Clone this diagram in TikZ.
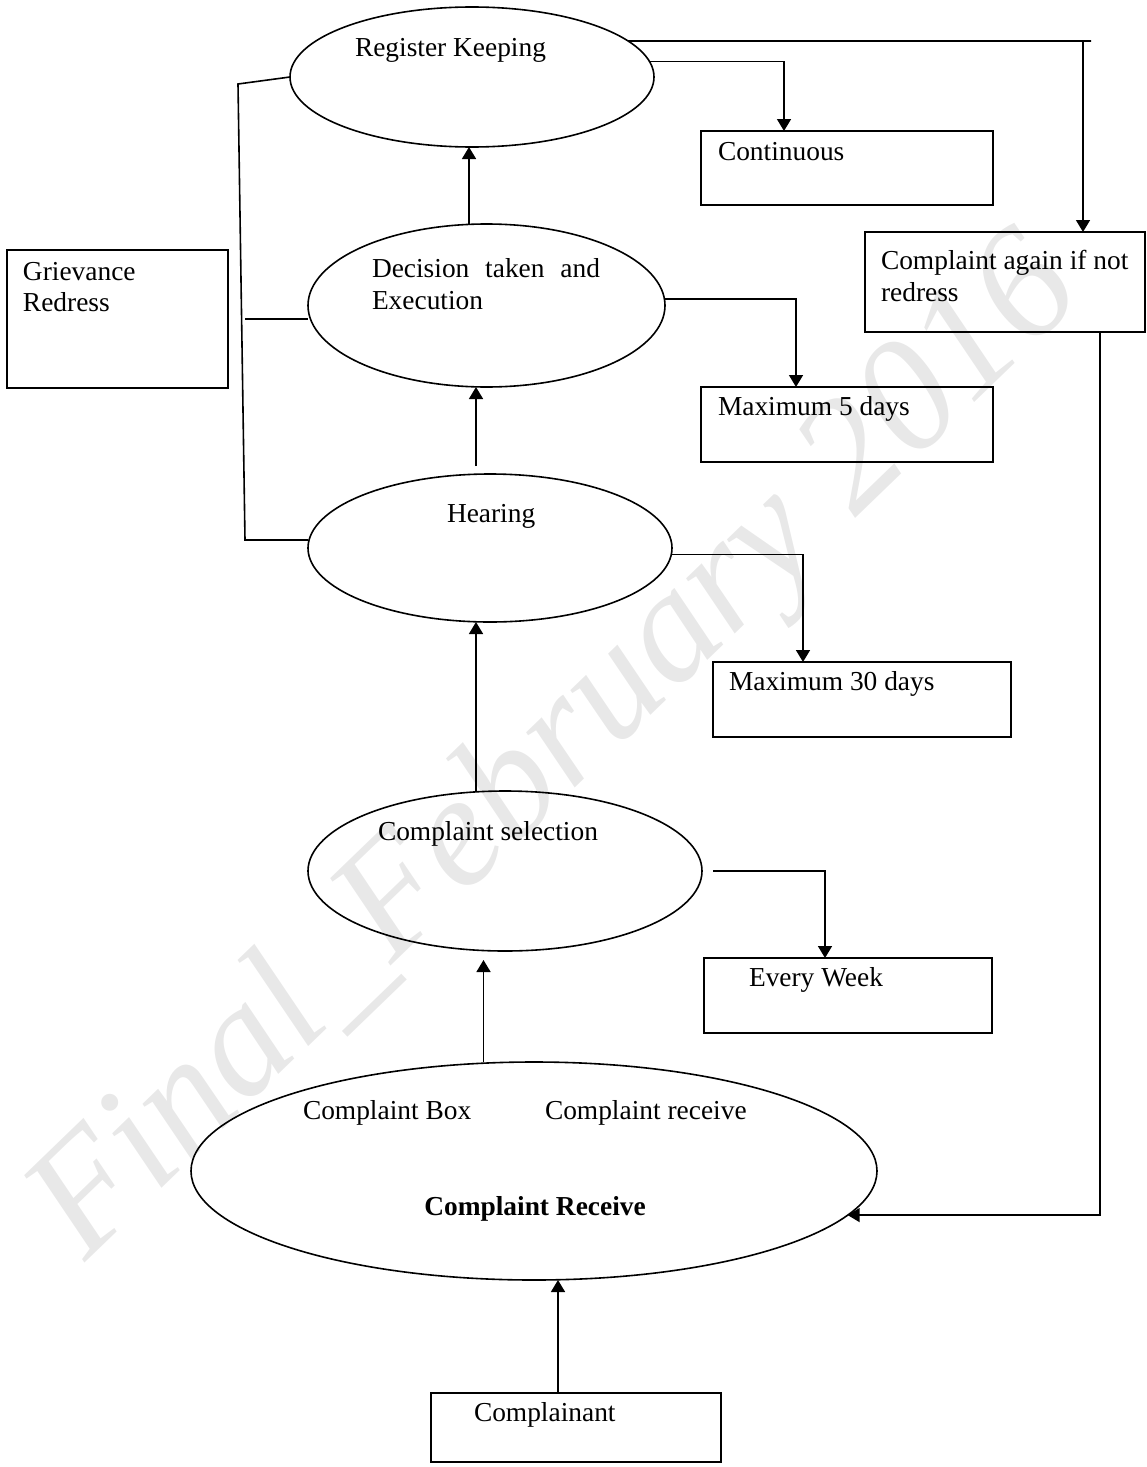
\documentclass[tikz,border=0pt]{standalone}
\usepackage{fontspec}
\setmainfont{Liberation Serif}
\usetikzlibrary{shapes.geometric,arrows.meta}

\begin{document}
\begin{tikzpicture}[x=0.5pt, y=-0.5pt, line width=0.8pt,
  every node/.style = {inner sep=0pt, outer sep=0pt,
    font=\fontsize{13.7}{15.8}\selectfont},
  oval/.style = {draw, ellipse},
  box/.style = {draw, rectangle, anchor=north west},
  txt/.style = {anchor=west, align=left},
  arr/.style = {-{Triangle[length=6pt,width=7pt]}}]

\useasboundingbox (0,0) rectangle (1146,1467);

% watermark
\node[anchor=base west, rotate=44, text=black!9,
  font=\fontsize{80}{80}\selectfont\itshape] (wm) at (85,1262) {Final\_February 2016};

\node[oval, minimum width=182pt, minimum height=70pt] (reg) at (472,77) {};
\node[oval, minimum width=178.5pt, minimum height=81.5pt] (dec) at (486.5,305.5) {};
\node[oval, minimum width=182pt, minimum height=74pt] (hear) at (490,548) {};
\node[oval, minimum width=197pt, minimum height=80pt] (sel) at (505,871) {};
\node[oval, minimum width=343pt, minimum height=109pt] (recv) at (534,1171) {};

\node[box, minimum width=146pt, minimum height=37pt] (cont) at (701,131) {};
\node[box, minimum width=140pt, minimum height=50pt] (again) at (865,232) {};
\node[box, minimum width=110.5pt, minimum height=69pt] (griev) at (7,250) {};
\node[box, minimum width=146pt, minimum height=37.5pt] (max5) at (701,387) {};
\node[box, minimum width=149pt, minimum height=37.5pt] (max30) at (713,662) {};
\node[box, minimum width=144pt, minimum height=37.5pt] (week) at (704,958) {};
\node[box, minimum width=145pt, minimum height=34.5pt] (compl) at (431,1393) {};

\node[txt] (regtxt) at (355,50) {Register Keeping};
\node[txt] (dectxt) at (372,284) {\makebox[114pt][s]{Decision taken and}\\Execution};
\node[txt] (heartxt) at (447,516) {Hearing};
\node[txt] (seltxt) at (378,834) {Complaint selection};
\node[txt] (boxtxt) at (303,1113) {Complaint Box};
\node[txt] (rectxt) at (545,1113) {Complaint receive};
\node[font=\fontsize{13.7}{15.8}\selectfont\bfseries] (recvtxt) at (535,1209) {Complaint Receive};

\node[txt] (conttxt) at (718,152) {Continuous};
\node[txt] (againtxt) at (881,276) {Complaint again if not\\redress};
\node[txt] (grievtxt) at (23,287) {Grievance\\Redress};
\node[txt] (max5txt) at (718,409) {Maximum 5 days};
\node[txt] (max30txt) at (729,684) {Maximum 30 days};
\node[txt] (weektxt) at (749,980) {Every Week};
\node[txt] (compltxt) at (474,1415) {Complainant};

% main chain
\draw[arr] ([xshift=-9pt]compl.north) -- ([xshift=-9pt]compl.north |- recv.south);
\draw[arr] ([xshift=-10.75pt]sel.south |- recv.north) -- ([xshift=-10.75pt,yshift=-4.5pt]sel.south);
\draw[arr] ([xshift=-7pt]hear.south |- sel.north) -- ([xshift=-7pt]hear.south);
\draw[arr] ([xshift=-5.25pt,yshift=4pt]dec.south |- hear.north) -- ([xshift=-5.25pt]dec.south);
\draw[arr] ([xshift=-1.5pt]reg.south |- dec.north) -- ([xshift=-1.5pt]reg.south);

% time limits
\draw[arr] (reg.5) -| ([xshift=-31.5pt]cont.north);
\draw[arr] (dec.2) -| ([xshift=-25.5pt]max5.north);
\draw[arr] (hear.-2) -| ([xshift=-29.5pt]max30.north);
\draw[arr] ([xshift=5.5pt]sel.east) -| ([xshift=-11.5pt]week.north);

% complaint again loop
\coordinate (tr) at (1083,41);
\coordinate (rb) at (1100,1219);
\draw (reg.13) -- ([xshift=4pt]tr);
\draw[arr] (tr) -- (tr |- again.north);
\draw[arr] (again.south -| rb) |- (recv.-8.5);

% grievance redress bracket
\coordinate (gt) at (238,84);
\coordinate (gm) at (245,319);
\coordinate (gb) at (245,540);
\draw (reg.west) -- (gt) -- (gb) -- (gb -| hear.west);
\draw (gm) -- (gm -| dec.west);
\end{tikzpicture}
\end{document}
